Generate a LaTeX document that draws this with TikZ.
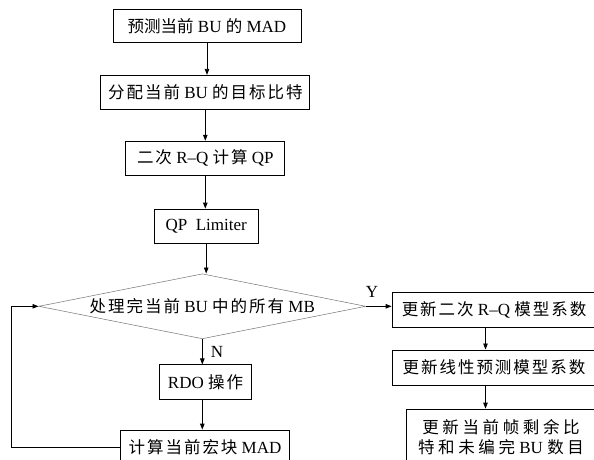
\documentclass[tikz,border=0pt]{standalone}
\usepackage{fontspec}
\setmainfont{Liberation Serif}
\newfontfamily\cjkfont{Noto Sans CJK SC}
\newfontfamily\cjkwfont{Noto Sans CJK SC}[LetterSpace=12]
\newfontfamily\cjkxfont{Noto Sans CJK SC}[LetterSpace=22]
\newcommand\zn[1]{{\cjkfont\fontsize{16.5}{20}\selectfont #1}}
\newcommand\zh[1]{{\cjkwfont\fontsize{16.5}{20}\selectfont #1}}
\newcommand\zx[1]{{\cjkxfont\fontsize{16.5}{20}\selectfont #1}}
\usetikzlibrary{arrows.meta,shapes.geometric}
\begin{document}
\begin{tikzpicture}[x=1pt,y=-1pt,
  box/.style={draw,line width=0.8pt,inner sep=0pt,minimum height=34pt,
    font=\fontsize{17}{20}\selectfont,align=center},
  arr/.style={line width=0.8pt,-{Triangle[length=6pt,width=4.5pt]}},
  lbl/.style={font=\fontsize{17}{18}\selectfont,inner sep=0pt}]
\clip (0,0) rectangle (594,460);
\node[box,minimum width=188pt,minimum height=33.5pt] (b1) at (207,26) {\zn{预测当前} BU \zn{的} MAD};
\node[box,minimum width=209pt] (b2) at (205.3,92.3) {\zh{分配当前} BU \zh{的目标比特}};
\node[box,minimum width=159pt] (b3) at (205.3,158.2) {\zh{二次} R–Q \zh{计算} QP};
\node[box,minimum width=104pt] (b4) at (206.2,226) {QP\ \ Limiter};
\node[diamond,draw=black!55,line width=0.5pt,inner sep=0pt,minimum width=327pt,minimum height=65pt,
  label={[font=\fontsize{17}{20}\selectfont]center:\zh{处理完当前} BU \zh{中的所有} MB}] (dia) at (202.3,306.3) {};
\node[box,minimum width=92.4pt,minimum height=34.3pt] (rdo) at (205.5,382) {RDO \zh{操作}};
\node[box,minimum width=168.6pt] (mad) at (205,447) {\zh{计算当前宏块} MAD};
\node[box,minimum width=204pt,minimum height=34.6pt] (r1) at (494,310) {\zh{更新二次} R–Q \zh{模型系数}};
\node[box,minimum width=204pt,minimum height=35.5pt] (r2) at (494,367.7) {\zh{更新线性预测模型系数}};
\node[box,minimum width=190pt,minimum height=56pt] (r3) at (501,437) {\zx{更新当前帧剩余比}\\\zx{特和未编完} BU \zx{数目}};
\node[lbl] (ylab) at (372,292) {Y};
\node[lbl] (nlab) at (217,352) {N};
\coordinate (rx) at (485.5,0);
\coordinate (lx) at (11.7,0);
\draw[arr] (b1.south) -- (b1.south |- b2.north);
\draw[arr] (b2.south) -- (b2.south |- b3.north);
\draw[arr] (b3.south) -- (b3.south |- b4.north);
\draw[arr] (b4.south) -- (b4.south |- dia.north);
\draw[arr] (dia.south) -- (dia.south |- rdo.north);
\draw[arr] (rdo.south -| dia.south) -- (dia.south |- mad.north);
\draw[arr] (dia.east) -- (dia.east -| r1.west);
\draw[arr] (r1.south -| rx) -- (r2.north -| rx);
\draw[arr] (r2.south -| rx) -- (r3.north -| rx);
\draw[arr] (mad.west) -- (mad.west -| lx) |- (dia.west);
\end{tikzpicture}
\end{document}
